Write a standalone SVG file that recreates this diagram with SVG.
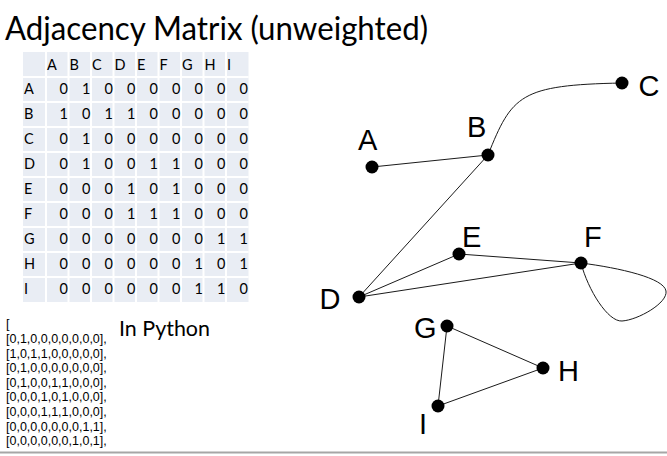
<svg xmlns="http://www.w3.org/2000/svg" width="667" height="456" viewBox="0 0 667 456">
<style>
.title{font-family:Lato,"Open Sans",sans-serif;font-size:32px;fill:#000}
.tb{font-family:Lato,"Open Sans",sans-serif;font-size:14.5px;fill:#000}
.d{text-anchor:middle}
.py{font-family:"Liberation Sans",Arial,sans-serif;font-size:12.5px;fill:#000}
.lab{font-family:"Liberation Sans",Arial,sans-serif;font-size:29px;fill:#000}
.grid{stroke:#fff;stroke-width:2}
.edge{fill:none;stroke:#1a1a1a;stroke-width:1}
.dot{fill:#000}
</style>
<rect width="667" height="456" fill="#fff"/>
<text class="title" x="5" y="40" textLength="423" lengthAdjust="spacingAndGlyphs">Adjacency Matrix (unweighted)</text>

<g id="matrix">
<rect x="23" y="52" width="225.5" height="250" fill="#E9EDF4"/>
<g class="grid">
<line x1="46" y1="52" x2="46" y2="302"/><line x1="68.5" y1="52" x2="68.5" y2="302"/><line x1="91" y1="52" x2="91" y2="302"/><line x1="113.5" y1="52" x2="113.5" y2="302"/><line x1="136" y1="52" x2="136" y2="302"/><line x1="158.5" y1="52" x2="158.5" y2="302"/><line x1="181" y1="52" x2="181" y2="302"/><line x1="203.5" y1="52" x2="203.5" y2="302"/><line x1="226" y1="52" x2="226" y2="302"/>
<line x1="23" y1="77" x2="248.5" y2="77"/><line x1="23" y1="102" x2="248.5" y2="102"/><line x1="23" y1="127" x2="248.5" y2="127"/><line x1="23" y1="152" x2="248.5" y2="152"/><line x1="23" y1="177" x2="248.5" y2="177"/><line x1="23" y1="202" x2="248.5" y2="202"/><line x1="23" y1="227" x2="248.5" y2="227"/><line x1="23" y1="252" x2="248.5" y2="252"/><line x1="23" y1="277" x2="248.5" y2="277"/>
</g>
<g class="tb">
<text x="47" y="69.5">A</text><text x="69.5" y="69.5">B</text><text x="92" y="69.5">C</text><text x="114.5" y="69.5">D</text><text x="137" y="69.5">E</text><text x="159.5" y="69.5">F</text><text x="182" y="69.5">G</text><text x="204.5" y="69.5">H</text><text x="227" y="69.5">I</text>
<text x="24" y="93.5">A</text><text x="24" y="118.5">B</text><text x="24" y="143.5">C</text><text x="24" y="168.5">D</text><text x="24" y="193.5">E</text><text x="24" y="218.5">F</text><text x="24" y="243.5">G</text><text x="24" y="268.5">H</text><text x="24" y="293.5">I</text>
</g>
<g class="tb d">
<text y="93.5"><tspan x="63.75">0</tspan><tspan x="86.25">1</tspan><tspan x="108.75">0</tspan><tspan x="131.25">0</tspan><tspan x="153.75">0</tspan><tspan x="176.25">0</tspan><tspan x="198.75">0</tspan><tspan x="221.25">0</tspan><tspan x="243.75">0</tspan></text>
<text y="118.5"><tspan x="63.75">1</tspan><tspan x="86.25">0</tspan><tspan x="108.75">1</tspan><tspan x="131.25">1</tspan><tspan x="153.75">0</tspan><tspan x="176.25">0</tspan><tspan x="198.75">0</tspan><tspan x="221.25">0</tspan><tspan x="243.75">0</tspan></text>
<text y="143.5"><tspan x="63.75">0</tspan><tspan x="86.25">1</tspan><tspan x="108.75">0</tspan><tspan x="131.25">0</tspan><tspan x="153.75">0</tspan><tspan x="176.25">0</tspan><tspan x="198.75">0</tspan><tspan x="221.25">0</tspan><tspan x="243.75">0</tspan></text>
<text y="168.5"><tspan x="63.75">0</tspan><tspan x="86.25">1</tspan><tspan x="108.75">0</tspan><tspan x="131.25">0</tspan><tspan x="153.75">1</tspan><tspan x="176.25">1</tspan><tspan x="198.75">0</tspan><tspan x="221.25">0</tspan><tspan x="243.75">0</tspan></text>
<text y="193.5"><tspan x="63.75">0</tspan><tspan x="86.25">0</tspan><tspan x="108.75">0</tspan><tspan x="131.25">1</tspan><tspan x="153.75">0</tspan><tspan x="176.25">1</tspan><tspan x="198.75">0</tspan><tspan x="221.25">0</tspan><tspan x="243.75">0</tspan></text>
<text y="218.5"><tspan x="63.75">0</tspan><tspan x="86.25">0</tspan><tspan x="108.75">0</tspan><tspan x="131.25">1</tspan><tspan x="153.75">1</tspan><tspan x="176.25">1</tspan><tspan x="198.75">0</tspan><tspan x="221.25">0</tspan><tspan x="243.75">0</tspan></text>
<text y="243.5"><tspan x="63.75">0</tspan><tspan x="86.25">0</tspan><tspan x="108.75">0</tspan><tspan x="131.25">0</tspan><tspan x="153.75">0</tspan><tspan x="176.25">0</tspan><tspan x="198.75">0</tspan><tspan x="221.25">1</tspan><tspan x="243.75">1</tspan></text>
<text y="268.5"><tspan x="63.75">0</tspan><tspan x="86.25">0</tspan><tspan x="108.75">0</tspan><tspan x="131.25">0</tspan><tspan x="153.75">0</tspan><tspan x="176.25">0</tspan><tspan x="198.75">1</tspan><tspan x="221.25">0</tspan><tspan x="243.75">1</tspan></text>
<text y="293.5"><tspan x="63.75">0</tspan><tspan x="86.25">0</tspan><tspan x="108.75">0</tspan><tspan x="131.25">0</tspan><tspan x="153.75">0</tspan><tspan x="176.25">0</tspan><tspan x="198.75">1</tspan><tspan x="221.25">1</tspan><tspan x="243.75">0</tspan></text>
</g>
</g>

<g id="python">
<text class="py" x="6" y="328">[</text>
<text class="py" x="6" y="343">[0,1,0,0,0,0,0,0,0],</text>
<text class="py" x="6" y="357.6">[1,0,1,1,0,0,0,0,0],</text>
<text class="py" x="6" y="372.2">[0,1,0,0,0,0,0,0,0],</text>
<text class="py" x="6" y="386.8">[0,1,0,0,1,1,0,0,0],</text>
<text class="py" x="6" y="401.4">[0,0,0,1,0,1,0,0,0],</text>
<text class="py" x="6" y="416">[0,0,0,1,1,1,0,0,0],</text>
<text class="py" x="6" y="430.6">[0,0,0,0,0,0,0,1,1],</text>
<text class="py" x="6" y="445.2">[0,0,0,0,0,0,1,0,1],</text>
<text x="119" y="336" style="font-family:Lato,'Open Sans',sans-serif;font-size:22px" textLength="91" lengthAdjust="spacingAndGlyphs">In Python</text>
</g>

<g id="connectors" class="edge">
<line x1="372" y1="167" x2="488" y2="155"/>
<path d="M488,155 C512,95 520,85 622,83"/>
<line x1="488" y1="155" x2="359" y2="297"/>
<line x1="359" y1="297" x2="459" y2="254"/>
<line x1="359" y1="297" x2="581" y2="263"/>
<line x1="459" y1="254" x2="581" y2="263"/>
<path d="M581,263 C620,268 664,278 666,291 C668,303 638,320 622,321 C608,322 588,290 581,263"/>
<line x1="447" y1="326" x2="543" y2="368"/>
<line x1="543" y1="368" x2="438" y2="406"/>
<line x1="438" y1="406" x2="447" y2="326"/>
</g>

<g id="node-A"><circle class="dot" cx="372" cy="167" r="6.5"/><text class="lab" x="358" y="150">A</text></g>
<g id="node-B"><circle class="dot" cx="488" cy="155" r="6.5"/><text class="lab" x="467" y="137">B</text></g>
<g id="node-C"><circle class="dot" cx="622" cy="83" r="6.5"/><text class="lab" x="638.5" y="96">C</text></g>
<g id="node-D"><circle class="dot" cx="359" cy="297" r="6.5"/><text class="lab" x="319.5" y="309">D</text></g>
<g id="node-E"><circle class="dot" cx="459" cy="254" r="6.5"/><text class="lab" x="462" y="247">E</text></g>
<g id="node-F"><circle class="dot" cx="581" cy="263" r="6.5"/><text class="lab" x="584" y="247">F</text></g>
<g id="node-G"><circle class="dot" cx="447" cy="326" r="6.5"/><text class="lab" x="414" y="338">G</text></g>
<g id="node-H"><circle class="dot" cx="543" cy="368" r="6.5"/><text class="lab" x="558" y="380.5">H</text></g>
<g id="node-I"><circle class="dot" cx="438" cy="406" r="6.5"/><text class="lab" x="419" y="434">I</text></g>

<line x1="0" y1="452.5" x2="667" y2="452.5" stroke="#A6A6A6" stroke-width="2"/>
</svg>
